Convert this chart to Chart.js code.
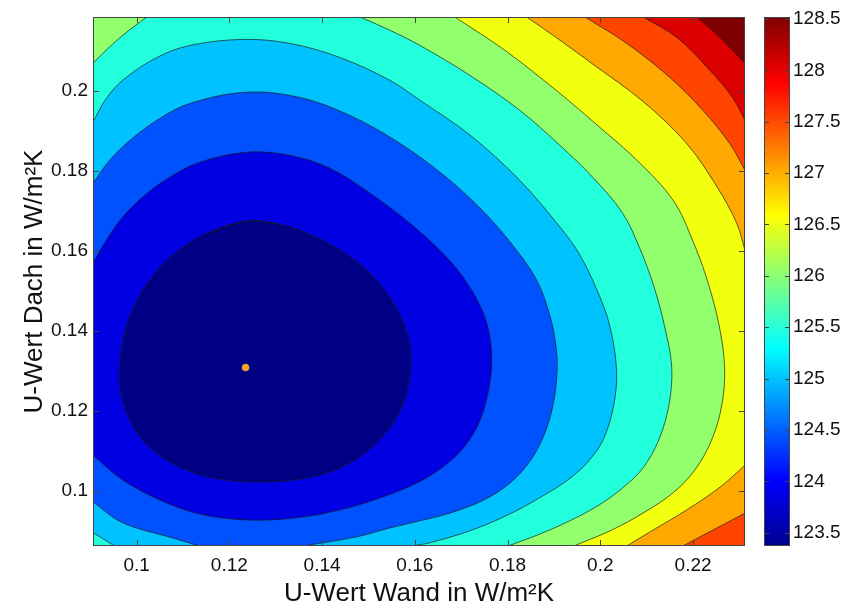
<!DOCTYPE html>
<html><head><meta charset="utf-8">
<script src="https://cdn.jsdelivr.net/npm/chart.js@4.4.1/dist/chart.umd.min.js"></script>
<style>
html,body{margin:0;padding:0;background:#fff;}
#wrap{position:relative;width:845px;height:612px;overflow:hidden;}
#main{position:absolute;left:0;top:0;}
#cbar{position:absolute;left:745px;top:0;}
</style></head><body>
<div id="wrap">
<canvas id="main" width="845" height="612"></canvas>
<canvas id="cbar" width="100" height="612"></canvas>
</div>
<script>
// ---------- data ----------
const xRange = [0.0906, 0.2312];          // U-Wert Wand (axis limits)
const yRange = [0.0862, 0.2184];          // U-Wert Dach (axis limits)
const xTicks = [0.1, 0.12, 0.14, 0.16, 0.18, 0.2, 0.22];
const yTicks = [0.1, 0.12, 0.14, 0.16, 0.18, 0.2];
const cbRange = [123.37, 128.52];
const cbTicks = [123.5, 124, 124.5, 125, 125.5, 126, 126.5, 127, 127.5, 128, 128.5];
const levels = [124, 124.5, 125, 125.5, 126, 126.5, 127, 127.5, 128, 128.5];
const bandColors = ['#000085','#0000e2','#0052ff','#00c2ff','#22ffdc','#92ff6c','#f2ff0e','#ffa900','#ff4400','#dc0000','#7f0000'];
const optimum = [[0.1235, 0.1308]];

// contour lines [x, y]
const lvl124 = [[0.1238,0.1674],[0.1309,0.1666],[0.1363,0.1646],[0.1428,0.1609],[0.1492,0.1556],[0.1535,0.1501],[0.1568,0.1439],[0.1587,0.1377],[0.1591,0.1319],[0.1585,0.1257],[0.1566,0.1194],[0.1533,0.1139],[0.1486,0.1089],[0.1428,0.1052],[0.1352,0.1029],[0.1270,0.1022],[0.1190,0.1027],[0.1119,0.1047],[0.1057,0.1082],[0.1009,0.1132],[0.0979,0.1194],[0.0964,0.1257],[0.0964,0.1319],[0.0973,0.1389],[0.0996,0.1464],[0.1033,0.1534],[0.1083,0.1594],[0.1147,0.1641]];
const lvl124_5 = [[0.0906,0.1569],[0.0932,0.1621],[0.0970,0.1684],[0.1018,0.1739],[0.1072,0.1784],[0.1136,0.1821],[0.1238,0.1846],[0.1331,0.1838],[0.1417,0.1806],[0.1503,0.1744],[0.1589,0.1669],[0.1654,0.1601],[0.1701,0.1539],[0.1740,0.1464],[0.1760,0.1397],[0.1766,0.1319],[0.1757,0.1239],[0.1736,0.1164],[0.1701,0.1102],[0.1654,0.1054],[0.1600,0.1017],[0.1525,0.0982],[0.1438,0.0952],[0.1341,0.0932],[0.1238,0.0927],[0.1136,0.0942],[0.1050,0.0977],[0.0970,0.1027],[0.0906,0.1089]];
const lvl125a = [[0.0906,0.1769],[0.0942,0.1826],[0.0986,0.1876],[0.1044,0.1926],[0.1115,0.1968],[0.1238,0.1996],[0.1352,0.1983],[0.1460,0.1938],[0.1568,0.1868],[0.1665,0.1786],[0.1751,0.1694],[0.1816,0.1606],[0.1863,0.1526],[0.1891,0.1439],[0.1904,0.1364],[0.1907,0.1302],[0.1898,0.1214],[0.1876,0.1132],[0.1842,0.1064],[0.1794,0.1009],[0.1736,0.0970],[0.1669,0.0942],[0.1611,0.0925],[0.1546,0.0907],[0.1475,0.0885],[0.1359,0.0862]];
const lvl125b = [[0.1136,0.0862],[0.1078,0.0882],[0.0970,0.0920],[0.0906,0.0972]];
const lvl125_5a = [[0.0906,0.1921],[0.0932,0.1976],[0.0970,0.2026],[0.1044,0.2083],[0.1115,0.2113],[0.1229,0.2128],[0.1331,0.2118],[0.1438,0.2083],[0.1546,0.2026],[0.1611,0.1976],[0.1719,0.1889],[0.1826,0.1776],[0.1913,0.1659],[0.1956,0.1589],[0.1993,0.1501],[0.2020,0.1414],[0.2035,0.1302],[0.2029,0.1214],[0.2006,0.1127],[0.1973,0.1072],[0.1930,0.1027],[0.1880,0.0990],[0.1805,0.0942],[0.1719,0.0900],[0.1632,0.0870],[0.1594,0.0862]];
const lvl125_5b = [[0.0953,0.0862],[0.0906,0.0895]];
const lvl126a = [[0.1022,0.2184],[0.0970,0.2138],[0.0927,0.2093],[0.0906,0.2068]];
const lvl126b = [[0.1482,0.2184],[0.1546,0.2151],[0.1611,0.2113],[0.1719,0.2038],[0.1826,0.1951],[0.1913,0.1863],[0.1984,0.1783],[0.2048,0.1694],[0.2085,0.1606],[0.2116,0.1509],[0.2139,0.1409],[0.2154,0.1309],[0.2148,0.1214],[0.2126,0.1127],[0.2092,0.1057],[0.2048,0.1007],[0.1994,0.0962],[0.1934,0.0925],[0.1870,0.0892],[0.1801,0.0862]];
const lvl126_5 = [[0.1686,0.2184],[0.1794,0.2101],[0.1913,0.1993],[0.1984,0.1923],[0.2079,0.1826],[0.2157,0.1726],[0.2199,0.1626],[0.2232,0.1521],[0.2256,0.1414],[0.2268,0.1309],[0.2262,0.1214],[0.2240,0.1127],[0.2204,0.1052],[0.2157,0.0995],[0.2096,0.0947],[0.2025,0.0902],[0.1943,0.0862]];
const lvl127a = [[0.1841,0.2184],[0.1880,0.2153],[0.1913,0.2126],[0.1984,0.2066],[0.2092,0.1973],[0.2186,0.1868],[0.2252,0.1759],[0.2294,0.1669],[0.2312,0.1601]];
const lvl127b = [[0.2312,0.1064],[0.2258,0.1009],[0.2186,0.0952],[0.2114,0.0902],[0.2057,0.0862]];
const lvl127_5a = [[0.1967,0.2184],[0.2057,0.2118],[0.2150,0.2033],[0.2221,0.1951],[0.2279,0.1868],[0.2312,0.1801]];
const lvl127_5b = [[0.2312,0.0944],[0.2243,0.0902],[0.2178,0.0862]];
const lvl128 = [[0.2092,0.2184],[0.2165,0.2133],[0.2236,0.2051],[0.2285,0.1983],[0.2312,0.1926]];
const lvl128_5 = [[0.2208,0.2184],[0.2258,0.2133],[0.2312,0.2068]];

// ---------- build polygons from the curves ----------
const FONT = "'Liberation Sans', Arial, sans-serif";
const [X0, X1] = xRange, [Y0, Y1] = yRange;
const mx = 0.02, my = 0.02;
const BLo = [X0 - mx, Y0 - my], BRo = [X1 + mx, Y0 - my], TLo = [X0 - mx, Y1 + my];
function ext(c) {
  const n = c.length, a = c[0], b = c[1], z = c[n - 1], y = c[n - 2];
  return [[2 * a[0] - b[0], 2 * a[1] - b[1]], ...c, [2 * z[0] - y[0], 2 * z[1] - y[1]]];
}
const rev = c => c.slice().reverse();
const pts = c => c.map(([x, y]) => ({x, y}));
const loop = c => [c[c.length - 1], ...c, c[0], c[1]];

// region where value < level, index = level index
const regions = [
  loop(lvl124),
  ext(lvl124_5),
  [...ext(lvl125a), ...ext(lvl125b)],
  [...ext(lvl125_5a), ...ext(lvl125_5b)],
  [...ext(lvl126b), BLo, ...ext(rev(lvl126a))],
  [...ext(lvl126_5), BLo, TLo],
  [...ext(lvl127a), ...ext(lvl127b), BLo, TLo],
  [...ext(lvl127_5a), ...ext(lvl127_5b), BLo, TLo],
  [...ext(lvl128), BRo, BLo, TLo],
  [...ext(lvl128_5), BRo, BLo, TLo]
];
const lines = [
  loop(lvl124), ext(lvl124_5), ext(lvl125a), ext(lvl125b), ext(lvl125_5a), ext(lvl125_5b),
  ext(lvl126a), ext(lvl126b), ext(lvl126_5), ext(lvl127a), ext(lvl127b), ext(lvl127_5a), ext(lvl127_5b),
  ext(lvl128), ext(lvl128_5)
];

const TENSION = 0.35;
const datasets = [];
let ord = 1000;
for (let i = regions.length - 1; i >= 0; i--) {
  datasets.push({
    label: '< ' + levels[i], data: pts(regions[i]), showLine: true, fill: 'shape',
    backgroundColor: bandColors[i], borderWidth: 0, borderColor: 'rgba(0,0,0,0)',
    pointRadius: 0, tension: TENSION, order: ord--
  });
}
lines.forEach((c, k) => datasets.push({
  label: 'line' + k, data: pts(c), showLine: true, fill: false,
  borderColor: 'rgba(25,25,25,0.85)', borderWidth: 0.8,
  pointRadius: 0, tension: TENSION, order: ord--
}));
datasets.push({
  label: 'Optimum', data: pts(optimum), showLine: false,
  pointRadius: 3.2, pointBackgroundColor: '#ffa21a', pointBorderColor: 'rgba(255,190,60,0.7)', pointBorderWidth: 1.2,
  order: ord--
});

const frame = {
  id: 'frame',
  beforeDatasetsDraw(chart) {
    const {ctx, chartArea: a} = chart;
    if (chart.canvas.id === 'main') {
      ctx.save(); ctx.fillStyle = bandColors[10];
      ctx.fillRect(a.left, a.top, a.right - a.left, a.bottom - a.top); ctx.restore();
    }
  },
  afterDraw(chart) {
    const {ctx, chartArea: a} = chart;
    const tl = chart.canvas.id === 'main' ? 6 : 5;
    ctx.save();
    ctx.strokeStyle = '#444'; ctx.lineWidth = 1;
    ctx.strokeRect(a.left + 0.5, a.top + 0.5, a.right - a.left - 1, a.bottom - a.top - 1);
    ctx.beginPath();
    for (const id of Object.keys(chart.scales)) {
      const s = chart.scales[id];
      if (!s.options.display) continue;
      s.ticks.forEach(t => {
        const p = Math.round(s.getPixelForValue(t.value)) + 0.5;
        if (s.isHorizontal()) {
          ctx.moveTo(p, a.bottom); ctx.lineTo(p, a.bottom - tl);
          ctx.moveTo(p, a.top); ctx.lineTo(p, a.top + tl);
        } else {
          ctx.moveTo(a.left, p); ctx.lineTo(a.left + tl, p);
          ctx.moveTo(a.right, p); ctx.lineTo(a.right - tl, p);
        }
      });
    }
    ctx.stroke();
    ctx.restore();
  }
};

const noGrid = {display: false, drawTicks: false, tickLength: 0};

new Chart(document.getElementById('main'), {
  type: 'scatter',
  data: {datasets},
  options: {
    responsive: false, animation: false, events: [],
    layout: {padding: {top: 17, right: 100, left: 0, bottom: 0}},
    plugins: {legend: {display: false}, tooltip: {enabled: false}, filler: {propagate: false}},
    scales: {
      x: {
        type: 'linear', min: X0, max: X1,
        afterBuildTicks: s => { s.ticks = xTicks.map(v => ({value: v})); },
        afterFit: s => { s.height = 66; },
        grid: noGrid, border: {display: false},
        ticks: {font: {family: FONT, size: 19}, color: '#111', padding: 8, maxRotation: 0, callback: v => String(v)},
        title: {display: true, text: 'U-Wert Wand in W/m²K', font: {family: FONT, size: 26}, color: '#111', padding: {top: 0, bottom: 3}}
      },
      y: {
        type: 'linear', min: Y0, max: Y1,
        afterBuildTicks: s => { s.ticks = yTicks.map(v => ({value: v})); },
        afterFit: s => { s.width = 93; },
        grid: noGrid, border: {display: false},
        ticks: {font: {family: FONT, size: 19}, color: '#111', padding: 5, callback: v => String(v)},
        title: {display: true, text: 'U-Wert Dach in W/m²K', font: {family: FONT, size: 26}, color: '#111', padding: {top: 19, bottom: 0}}
      }
    }
  },
  plugins: [frame]
});

// ---------- colour bar ----------
function jetGradient(ctx, area) {
  const g = ctx.createLinearGradient(0, area.bottom, 0, area.top);
  const stops = [[0, '#000090'], [0.125, '#0000ff'], [0.375, '#00ffff'], [0.625, '#ffff00'], [0.875, '#ff0000'], [1, '#800000']];
  stops.forEach(([o, c]) => g.addColorStop(o, c));
  return g;
}
new Chart(document.getElementById('cbar'), {
  type: 'bar',
  data: {labels: ['Wert'], datasets: [{
    data: [cbRange], borderWidth: 0, barPercentage: 1, categoryPercentage: 1,
    backgroundColor: c => c.chart.chartArea ? jetGradient(c.chart.ctx, c.chart.chartArea) : '#00f'
  }]},
  options: {
    responsive: false, animation: false, events: [],
    layout: {padding: {top: 17, left: 19, right: 0, bottom: 66}},
    plugins: {legend: {display: false}, tooltip: {enabled: false}},
    scales: {
      x: {display: false},
      y: {
        position: 'right', min: cbRange[0], max: cbRange[1],
        afterBuildTicks: s => { s.ticks = cbTicks.map(v => ({value: v})); },
        afterFit: s => { s.width = 55; },
        grid: noGrid, border: {display: false},
        ticks: {font: {family: FONT, size: 19}, color: '#111', padding: 3, callback: v => String(v)}
      }
    }
  },
  plugins: [frame]
});
</script>
</body></html>
